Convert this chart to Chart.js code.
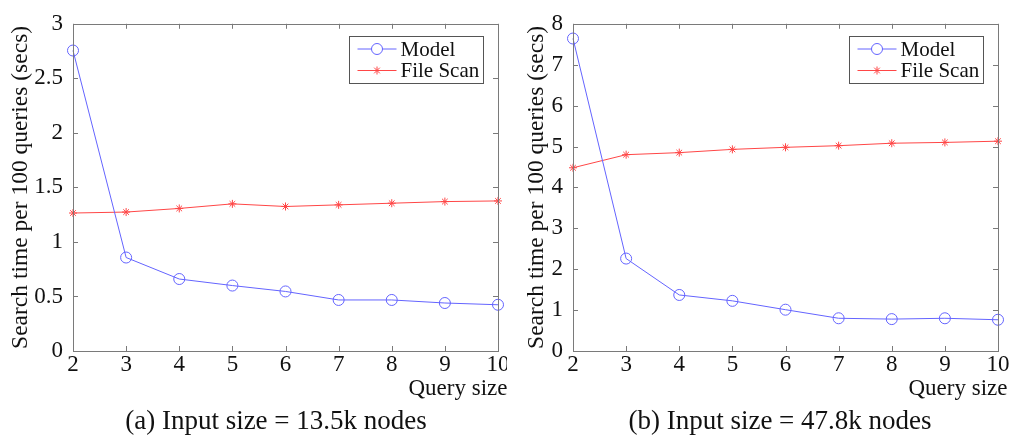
<!DOCTYPE html>
<html>
<head>
<meta charset="utf-8">
<script src="https://cdn.jsdelivr.net/npm/chart.js@4.4.1/dist/chart.umd.min.js"></script>
<style>
  body { margin: 0; background: #fff; width: 1014px; height: 437px; position: relative; overflow: hidden;
         font-family: "Liberation Serif", "Times New Roman", serif; }
  .panel { position: absolute; top: 0; width: 507px; height: 437px; overflow: hidden; }
  .inner { position: relative; width: 522px; height: 437px; }
  .caption { position: absolute; top: 405px; transform: translateX(-50%); white-space: nowrap;
             font-size: 27px; line-height: 30px; color: #111; }
</style>
</head>
<body>
<div class="panel" style="left:0"><div class="inner"><canvas id="chartA"></canvas></div></div>
<div class="panel" style="left:507px"><div class="inner"><canvas id="chartB"></canvas></div></div>
<div class="caption" style="left:276px">(a) Input size = 13.5k nodes</div>
<div class="caption" style="left:780px">(b) Input size = 47.8k nodes</div>

<script>
// query sizes along the x axis
const querySizes = ['2', '3', '4', '5', '6', '7', '8', '9', '10'];

// (a) 13.5k nodes
const modelA = [2.755, 0.857, 0.66, 0.60, 0.546, 0.468, 0.468, 0.44, 0.424];
const scanA  = [1.265, 1.274, 1.307, 1.349, 1.325, 1.34, 1.355, 1.37, 1.376];

// (b) 47.8k nodes
const modelB = [7.64, 2.26, 1.37, 1.226, 1.01, 0.80, 0.78, 0.80, 0.764];
const scanB  = [4.48, 4.80, 4.85, 4.93, 4.98, 5.02, 5.08, 5.10, 5.13];

const seriesNames = ['Model', 'File Scan'];

const FONT = '"Liberation Serif", "Times New Roman", serif';
const BLUE = 'rgb(100,100,255)';
const RED = 'rgb(255,70,70)';
const AXIS = '#7a7a7a';

// matlab-ish box, inner ticks, legend and the "Query size" label
const matlabFrame = {
  id: 'matlabFrame',
  afterDraw(chart) {
    const ctx = chart.ctx;
    const a = chart.chartArea;
    const xs = chart.scales.x, ys = chart.scales.y;
    const tl = 5;
    ctx.save();
    ctx.strokeStyle = AXIS;
    ctx.lineWidth = 1;
    ctx.strokeRect(Math.round(a.left) + 0.5, Math.round(a.top) + 0.5,
                   Math.round(a.right - a.left), Math.round(a.bottom - a.top));
    ctx.beginPath();
    xs.ticks.forEach((t, i) => {
      const px = Math.round(xs.getPixelForTick(i)) + 0.5;
      ctx.moveTo(px, a.bottom); ctx.lineTo(px, a.bottom - tl);
      ctx.moveTo(px, a.top); ctx.lineTo(px, a.top + tl);
    });
    ys.ticks.forEach(t => {
      const py = Math.round(ys.getPixelForValue(t.value)) + 0.5;
      ctx.moveTo(a.left, py); ctx.lineTo(a.left + tl, py);
      ctx.moveTo(a.right, py); ctx.lineTo(a.right - tl, py);
    });
    ctx.stroke();

    // Query size label under the right end of the axis
    ctx.fillStyle = '#111';
    ctx.font = '23px ' + FONT;
    ctx.textAlign = 'right';
    ctx.textBaseline = 'alphabetic';
    ctx.fillText('Query size', a.right + 9.5, a.bottom + 44);

    // legend box
    const lw = 134, lh = 47;
    const lx = Math.round(a.right - lw - 15) + 0.5;
    const ly = Math.round(a.top + 12) + 0.5;
    ctx.fillStyle = '#fff';
    ctx.fillRect(lx, ly, lw, lh);
    ctx.strokeStyle = '#555';
    ctx.strokeRect(lx, ly, lw, lh);
    chart.data.datasets.forEach((ds, i) => {
      const cy = ly + 12.5 + i * 21.5;
      ctx.strokeStyle = ds.borderColor;
      ctx.lineWidth = 1;
      ctx.beginPath();
      ctx.moveTo(lx + 8, cy); ctx.lineTo(lx + 47, cy);
      ctx.stroke();
      Chart.helpers.drawPoint(ctx, {
        pointStyle: ds.pointStyle, radius: ds.pointRadius, rotation: 0, borderWidth: 1
      }, lx + 27.5, cy);
      ctx.fillStyle = '#111';
      ctx.font = '21px ' + FONT;
      ctx.textAlign = 'left';
      ctx.textBaseline = 'middle';
      ctx.fillText(ds.label, lx + 51, cy + 1);
    });
    ctx.restore();
  }
};

function makeChart(id, model, scan, yMax, yStep, axisWidth, rightPad, titlePad) {
  return new Chart(document.getElementById(id), {
    type: 'line',
    data: {
      labels: querySizes,
      datasets: [
        { label: seriesNames[0], data: model, borderColor: BLUE, backgroundColor: 'rgba(0,0,0,0)',
          borderWidth: 1, pointStyle: 'circle', pointRadius: 5.5, pointBorderWidth: 1, tension: 0 },
        { label: seriesNames[1], data: scan, borderColor: RED, backgroundColor: RED,
          borderWidth: 1, pointStyle: 'star', pointRadius: 4, pointBorderWidth: 1, tension: 0 }
      ]
    },
    options: {
      responsive: true,
      maintainAspectRatio: false,
      animation: false,
      devicePixelRatio: 1,
      layout: { padding: { left: 0, top: 16, right: rightPad, bottom: 0 } },
      plugins: { legend: { display: false }, tooltip: { enabled: false } },
      scales: {
        x: {
          grid: { display: false, drawTicks: false },
          border: { display: false },
          ticks: { color: '#111', font: { family: FONT, size: 23 }, padding: 0, maxRotation: 0 },
          afterFit(scale) { scale.height = 86; }
        },
        y: {
          min: 0, max: yMax,
          grid: { display: false, drawTicks: false },
          border: { display: false },
          ticks: { stepSize: yStep, color: '#111', font: { family: FONT, size: 23 }, padding: 10,
                   callback: v => String(v) },
          title: { display: true, text: 'Search time per 100 queries (secs)', color: '#111',
                   font: { family: FONT, size: 23.5 }, padding: { top: titlePad, bottom: 0 } },
          afterFit(scale) { scale.width = axisWidth; }
        }
      }
    },
    plugins: [matlabFrame]
  });
}

// canvases are 522 wide; chart right edges at 498 (a) and 491 (b)
makeChart('chartA', modelA, scanA, 3, 0.5, 73, 24, 7);
makeChart('chartB', modelB, scanB, 8, 1, 66, 31, 16);
</script>
</body>
</html>
